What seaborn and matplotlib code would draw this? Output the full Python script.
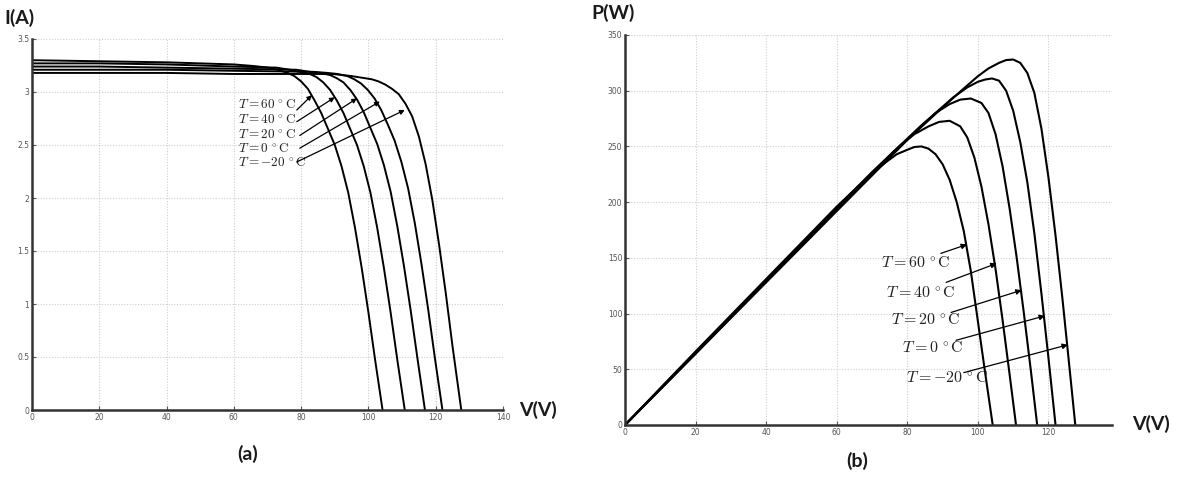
import matplotlib
matplotlib.use("Agg")
import matplotlib.pyplot as plt
import seaborn as sns
import pandas as pd

# Module temperatures (deg C)
temps = [60, 40, 20, 0, -20]

# I-V characteristics: voltage (V) and current (A) for each temperature
iv_v = {
    60:  [0, 20, 40, 60, 66, 70, 73, 76, 78, 80, 82, 84, 86, 88, 90, 92, 94, 96, 98, 100, 102, 104.2],
    40:  [0, 20, 40, 60, 72.6, 76.6, 79.6, 82.6, 84.6, 86.6, 88.6, 90.6, 92.6, 94.6, 96.6, 98.6,
          100.6, 102.6, 104.6, 106.6, 108.6, 110.8],
    20:  [0, 20, 40, 60, 78.6, 82.6, 85.6, 88.6, 90.6, 92.6, 94.6, 96.6, 98.6, 100.6, 102.6, 104.6,
          106.6, 108.6, 110.6, 112.6, 114.6, 116.8],
    0:   [0, 20, 40, 60, 83.8, 87.8, 90.8, 93.8, 95.8, 97.8, 99.8, 101.8, 103.8, 105.8, 107.8, 109.8,
          111.8, 113.8, 115.8, 117.8, 119.8, 122.0],
    -20: [0, 20, 40, 60, 89.4, 95, 99, 101, 103, 105, 107, 109, 111, 113, 115, 117, 119, 121, 123,
          125, 127.6],
}
iv_i = {
    60:  [3.30, 3.29, 3.28, 3.26, 3.245, 3.23, 3.21, 3.18, 3.15, 3.10, 3.03, 2.92, 2.80, 2.65, 2.50,
          2.30, 2.05, 1.72, 1.34, 0.92, 0.47, 0],
    40:  [3.27, 3.27, 3.26, 3.24, 3.23, 3.21, 3.19, 3.17, 3.14, 3.09, 3.02, 2.92, 2.80, 2.65, 2.50,
          2.30, 2.05, 1.72, 1.34, 0.92, 0.47, 0],
    20:  [3.24, 3.24, 3.23, 3.22, 3.21, 3.19, 3.18, 3.16, 3.13, 3.09, 3.02, 2.93, 2.81, 2.66, 2.51,
          2.31, 2.06, 1.73, 1.35, 0.93, 0.48, 0],
    0:   [3.21, 3.21, 3.21, 3.20, 3.19, 3.18, 3.17, 3.15, 3.12, 3.08, 3.02, 2.94, 2.83, 2.69, 2.54,
          2.34, 2.09, 1.76, 1.37, 0.94, 0.48, 0],
    -20: [3.18, 3.18, 3.18, 3.17, 3.17, 3.15, 3.13, 3.12, 3.10, 3.07, 3.03, 2.98, 2.89, 2.77, 2.58,
          2.32, 1.98, 1.56, 1.10, 0.60, 0],
}

# P-V characteristics: voltage (V) and power (W) for each temperature
pv_v = {
    60:  [0, 20, 40, 60, 70, 74, 77, 80, 82, 84, 86, 88, 90, 92, 94, 96, 98, 100, 102, 104.2],
    40:  [0, 20, 40, 60, 70, 78, 82, 86, 89, 92, 95, 97, 99, 101, 103, 105, 107, 109, 110.8],
    20:  [0, 20, 40, 60, 76, 84, 88, 92, 95, 98, 101, 103, 105, 107, 109, 111, 113, 115, 116.8],
    0:   [0, 20, 40, 60, 80, 88, 93, 97, 100, 102, 104, 106, 108, 110, 112, 114, 116, 118, 120, 122.0],
    -20: [0, 20, 40, 60, 80, 90, 96, 100, 103, 106, 108, 110, 112, 114, 116, 118, 120, 122, 124,
          126, 127.6],
}
pv_p = {
    60:  [0, 66, 131, 196, 226, 236, 243, 247, 249.5, 250, 248, 243, 234, 220, 200, 174, 138, 93,
          48, 0],
    40:  [0, 65, 130, 195, 227, 251, 261, 268, 272, 273, 268, 258, 240, 214, 180, 140, 94, 45, 0],
    20:  [0, 65, 130, 194, 245, 269, 280, 288, 292, 293, 289, 280, 261, 232, 194, 150, 101, 49, 0],
    0:   [0, 64, 129, 193, 256, 280, 294, 303, 308, 310, 311, 309, 300, 282, 254, 218, 172, 118, 60, 0],
    -20: [0, 64, 128, 192, 256, 285, 302, 313, 320, 325, 327.5, 328, 325, 316, 298, 266, 222, 170,
          112, 50, 0],
}

# Annotation labels and arrow geometry (start -> tip) in data units
iv_label_pos = {60: (61.2, 2.88), 40: (61.2, 2.74), 20: (61.2, 2.59), 0: (61.2, 2.46), -20: (61.2, 2.33)}
iv_arrows = {60: ((78.7, 2.83), (83.2, 2.97)), 40: ((78.7, 2.72), (90.0, 2.95)),
             20: ((79.6, 2.59), (96.6, 2.94)), 0: ((79.6, 2.47), (103.4, 2.91)),
             -20: ((78.7, 2.34), (110.8, 2.83))}
pv_label_pos = {60: (72.5, 145), 40: (74.0, 118), 20: (75.5, 94), 0: (78.5, 69), -20: (79.5, 42)}
pv_arrows = {60: ((89.5, 154), (96.9, 162)), 40: ((91.0, 128), (105.3, 145)),
             20: ((92.4, 101), (112.4, 121)), 0: ((93.8, 76), (119.0, 98)),
             -20: ((96.0, 47), (125.5, 72))}


def temp_label(t):
    if t < 0:
        return r"$T=-%d\,^\circ\mathrm{C}$" % abs(t)
    return r"$T=%d\,^\circ\mathrm{C}$" % t


iv_df = pd.DataFrame([(t, v, i) for t in temps for v, i in zip(iv_v[t], iv_i[t])],
                     columns=["T", "V", "I"])
pv_df = pd.DataFrame([(t, v, p) for t in temps for v, p in zip(pv_v[t], pv_p[t])],
                     columns=["T", "V", "P"])

sns.set_theme(style="white")
plt.rcParams["mathtext.fontset"] = "cm"
plt.rcParams["font.family"] = ["DejaVu Sans"]

fig = plt.figure(figsize=(11.83, 4.78), dpi=100)
ax1 = fig.add_axes([32 / 1183, 68 / 478, 471 / 1183, 371 / 478])
ax2 = fig.add_axes([625 / 1183, 53 / 478, 487 / 1183, 390 / 478])

palette = {t: "black" for t in temps}

sns.lineplot(data=iv_df, x="V", y="I", hue="T", palette=palette, units="T",
             estimator=None, sort=False, legend=False, linewidth=1.4, ax=ax1)
sns.lineplot(data=pv_df, x="V", y="P", hue="T", palette=palette, units="T",
             estimator=None, sort=False, legend=False, linewidth=1.5, ax=ax2)

ax1.set_xlim(0, 140)
ax1.set_ylim(0, 3.5)
ax1.set_xticks(range(0, 141, 20))
ax1.set_yticks([0, 0.5, 1, 1.5, 2, 2.5, 3, 3.5])
ax1.set_yticklabels(["0", "0.5", "1", "1.5", "2", "2.5", "3", "3.5"])

ax2.set_xlim(0, 138)
ax2.set_ylim(0, 350)
ax2.set_xticks(range(0, 121, 20))
ax2.set_yticks(range(0, 351, 50))

for ax in (ax1, ax2):
    ax.set_xlabel("")
    ax.set_ylabel("")
    ax.grid(True, color="#cfcfcf", linestyle=(0, (1, 1.5)), linewidth=0.8)
    for side in ("top", "right"):
        ax.spines[side].set_visible(False)
    for side in ("left", "bottom"):
        ax.spines[side].set_color("#333333")
        ax.spines[side].set_linewidth(1.8)
    ax.tick_params(axis="both", direction="in", length=3, width=0.8, color="#555555",
                   labelsize=5.5, labelcolor="#555555", pad=2,
                   bottom=True, left=True)

for t in temps:
    ax1.text(*iv_label_pos[t], temp_label(t), fontsize=9.5, va="center", ha="left",
             color="#222222")
    s, e = iv_arrows[t]
    ax1.annotate("", xy=e, xytext=s,
                 arrowprops=dict(arrowstyle="-|>", color="black", lw=0.9,
                                 mutation_scale=7, shrinkA=0, shrinkB=0))
    ax2.text(*pv_label_pos[t], temp_label(t), fontsize=11.5, va="center", ha="left",
             color="#222222")
    s, e = pv_arrows[t]
    ax2.annotate("", xy=e, xytext=s,
                 arrowprops=dict(arrowstyle="-|>", color="black", lw=0.9,
                                 mutation_scale=8, shrinkA=0, shrinkB=0))

lab = dict(fontsize=14, fontweight="bold", family=["Lato", "DejaVu Sans"], color="#1a1a1a")
fig.text(4 / 1183, 1 - 18 / 478, "I(A)", va="center", ha="left", **lab)
fig.text(591 / 1183, 1 - 13 / 478, "P(W)", va="center", ha="left", **lab)
fig.text(519 / 1183, 1 - 410 / 478, "V(V)", va="center", ha="left", **lab)
fig.text(1132 / 1183, 1 - 424 / 478, "V(V)", va="center", ha="left", **lab)
fig.text(248 / 1183, 1 - 454 / 478, "(a)", va="center", ha="center", **lab)
fig.text(857 / 1183, 1 - 461 / 478, "(b)", va="center", ha="center", **lab)

fig.savefig("out.png", dpi=100, facecolor="white")
